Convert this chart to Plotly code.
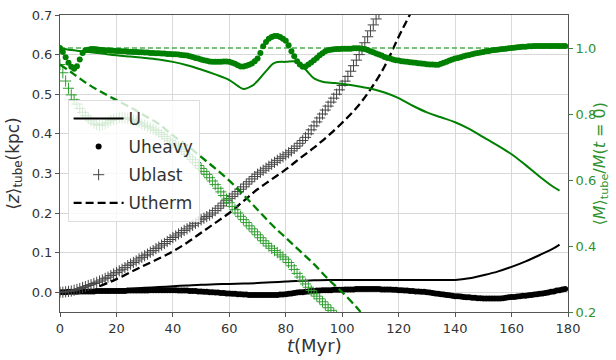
import plotly.graph_objects as go

# ---- time sampling (Myr) for the marker series: one snapshot per Myr ----
t_heavy = list(range(0, 180))      # Uheavy, full run
t_blast_z = list(range(0, 115))    # Ublast height, until it leaves the axis
t_blast_m = list(range(0, 99))     # Ublast mass fraction, until it leaves the axis

# ---- <z>_tube (kpc), left axis ----
t_u = [0, 5, 10, 15, 20, 25, 30, 35, 40, 45, 50, 55, 60, 65, 70, 75, 80, 85, 90, 95,
       100, 105, 110, 115, 120, 125, 130, 135, 140, 145, 150, 155, 160, 165, 170, 175, 177]
z_u = [0.000, 0.002, 0.004, 0.006, 0.007, 0.009, 0.011, 0.013, 0.015, 0.017, 0.019,
       0.020, 0.021, 0.022, 0.023, 0.025, 0.027, 0.029, 0.030, 0.031, 0.031, 0.031,
       0.031, 0.031, 0.031, 0.031, 0.031, 0.031, 0.031, 0.035, 0.043, 0.052, 0.064,
       0.078, 0.094, 0.111, 0.120]

z_heavy = [
    0.000, 0.000, 0.000, 0.001, 0.001, 0.001, 0.001, 0.002, 0.002, 0.002,
    0.002, 0.002, 0.002, 0.003, 0.003, 0.003, 0.003, 0.003, 0.003, 0.003,
    0.003, 0.003, 0.003, 0.003, 0.004, 0.004, 0.004, 0.004, 0.004, 0.004,
    0.004, 0.004, 0.005, 0.005, 0.005, 0.005, 0.005, 0.005, 0.005, 0.005,
    0.005, 0.005, 0.004, 0.004, 0.004, 0.004, 0.003, 0.003, 0.003, 0.002,
    0.002, 0.001, 0.001, 0.000, 0.000, -0.001, -0.001, -0.002, -0.002, -0.003,
    -0.003, -0.004, -0.004, -0.005, -0.005, -0.006, -0.006, -0.007, -0.007, -0.007,
    -0.007, -0.007, -0.007, -0.007, -0.007, -0.007, -0.007, -0.007, -0.006, -0.006,
    -0.005, -0.004, -0.003, -0.002, -0.001, 0.000, 0.000, 0.001, 0.002, 0.003,
    0.003, 0.004, 0.004, 0.005, 0.005, 0.005, 0.005, 0.006, 0.006, 0.006,
    0.006, 0.007, 0.007, 0.007, 0.007, 0.008, 0.008, 0.008, 0.008, 0.008,
    0.008, 0.008, 0.008, 0.008, 0.007, 0.007, 0.007, 0.007, 0.006, 0.006,
    0.005, 0.005, 0.004, 0.004, 0.003, 0.003, 0.002, 0.002, 0.001, 0.001,
    0.000, -0.001, -0.002, -0.003, -0.004, -0.005, -0.006, -0.007, -0.008, -0.009,
    -0.010, -0.010, -0.011, -0.012, -0.013, -0.013, -0.014, -0.014, -0.015, -0.015,
    -0.016, -0.016, -0.016, -0.016, -0.016, -0.016, -0.016, -0.015, -0.014, -0.013,
    -0.012, -0.012, -0.011, -0.010, -0.009, -0.009, -0.008, -0.007, -0.006, -0.005,
    -0.004, -0.003, -0.002, -0.001, 0.001, 0.002, 0.004, 0.005, 0.007, 0.008,
]

z_blast = [
    0.000, 0.000, 0.001, 0.002, 0.003, 0.005, 0.007, 0.009, 0.012, 0.014,
    0.017, 0.019, 0.022, 0.025, 0.028, 0.031, 0.035, 0.038, 0.042, 0.046,
    0.050, 0.054, 0.058, 0.062, 0.067, 0.071, 0.075, 0.079, 0.084, 0.088,
    0.092, 0.096, 0.101, 0.105, 0.110, 0.114, 0.119, 0.123, 0.128, 0.133,
    0.138, 0.142, 0.147, 0.151, 0.156, 0.160, 0.165, 0.169, 0.174, 0.178,
    0.183, 0.187, 0.191, 0.195, 0.200, 0.206, 0.212, 0.218, 0.225, 0.231,
    0.237, 0.242, 0.248, 0.254, 0.260, 0.266, 0.273, 0.279, 0.286, 0.292,
    0.298, 0.303, 0.308, 0.313, 0.318, 0.323, 0.328, 0.333, 0.338, 0.342,
    0.347, 0.352, 0.357, 0.363, 0.369, 0.376, 0.383, 0.391, 0.400, 0.410,
    0.420, 0.430, 0.440, 0.450, 0.460, 0.470, 0.480, 0.490, 0.500, 0.511,
    0.522, 0.533, 0.545, 0.558, 0.572, 0.586, 0.600, 0.615, 0.630, 0.645,
    0.660, 0.675, 0.690, 0.705, 0.720,
]

t_therm = [14, 20, 26, 30, 35, 40, 45, 50, 55, 60, 65, 70, 75, 80, 85, 90, 95, 100,
           105, 110, 115, 120, 125]
z_therm = [0.015, 0.033, 0.054, 0.068, 0.085, 0.103, 0.125, 0.150, 0.175, 0.200,
           0.230, 0.260, 0.285, 0.310, 0.338, 0.365, 0.395, 0.428, 0.465, 0.512,
           0.570, 0.645, 0.715]

# ---- <M>_tube / M(t=0), right axis ----
t_mu = [0, 3, 6, 10, 15, 20, 25, 30, 35, 40, 45, 50, 55, 60, 63, 65, 68, 70, 73, 76,
        80, 84, 87, 90, 93, 96, 100, 105, 110, 115, 120, 125, 130, 135, 140, 145, 150,
        155, 160, 165, 170, 175, 177]
m_u = [1.000, 0.995, 0.992, 0.988, 0.983, 0.978, 0.974, 0.970, 0.965, 0.958, 0.948,
       0.935, 0.920, 0.903, 0.885, 0.876, 0.885, 0.900, 0.930, 0.955, 0.958, 0.958,
       0.935, 0.908, 0.898, 0.895, 0.891, 0.885, 0.877, 0.865, 0.848, 0.825, 0.805,
       0.790, 0.775, 0.755, 0.730, 0.705, 0.678, 0.645, 0.610, 0.578, 0.568]

m_heavy = [
    1.000, 0.988, 0.972, 0.955, 0.943, 0.937, 0.945, 0.965, 0.985, 0.993,
    0.995, 0.997, 0.997, 0.996, 0.995, 0.994, 0.993, 0.993, 0.992, 0.992,
    0.991, 0.991, 0.990, 0.990, 0.989, 0.989, 0.988, 0.988, 0.987, 0.987,
    0.986, 0.986, 0.985, 0.985, 0.984, 0.984, 0.983, 0.983, 0.982, 0.982,
    0.981, 0.981, 0.980, 0.979, 0.978, 0.977, 0.975, 0.973, 0.970, 0.968,
    0.965, 0.963, 0.961, 0.959, 0.958, 0.958, 0.958, 0.958, 0.959, 0.959,
    0.958, 0.955, 0.952, 0.948, 0.944, 0.944, 0.946, 0.949, 0.953, 0.960,
    0.968, 0.985, 1.005, 1.018, 1.028, 1.033, 1.036, 1.036, 1.033, 1.028,
    1.022, 1.008, 0.990, 0.975, 0.960, 0.950, 0.943, 0.944, 0.950, 0.956,
    0.963, 0.970, 0.978, 0.984, 0.990, 0.993, 0.995, 0.996, 0.997, 0.997,
    0.998, 0.998, 0.998, 0.998, 0.999, 0.999, 0.999, 0.998, 0.997, 0.994,
    0.990, 0.987, 0.983, 0.980, 0.977, 0.973, 0.970, 0.968, 0.965, 0.963,
    0.962, 0.960, 0.959, 0.958, 0.957, 0.956, 0.955, 0.954, 0.953, 0.952,
    0.951, 0.950, 0.950, 0.949, 0.949, 0.952, 0.955, 0.958, 0.962, 0.965,
    0.968, 0.970, 0.972, 0.975, 0.977, 0.979, 0.981, 0.983, 0.985, 0.986,
    0.988, 0.990, 0.991, 0.993, 0.994, 0.995, 0.996, 0.997, 0.998, 0.999,
    1.000, 1.001, 1.002, 1.003, 1.004, 1.004, 1.005, 1.005, 1.006, 1.006,
    1.006, 1.006, 1.006, 1.006, 1.006, 1.006, 1.006, 1.006, 1.006, 1.006,
]

m_blast = [
    0.950, 0.925, 0.900, 0.878, 0.858, 0.843, 0.830, 0.817, 0.805, 0.795,
    0.787, 0.779, 0.772, 0.768, 0.765, 0.767, 0.770, 0.775, 0.780, 0.783,
    0.786, 0.788, 0.789, 0.788, 0.787, 0.784, 0.781, 0.778, 0.774, 0.770,
    0.766, 0.762, 0.758, 0.754, 0.750, 0.744, 0.738, 0.732, 0.725, 0.719,
    0.712, 0.706, 0.700, 0.693, 0.686, 0.678, 0.670, 0.662, 0.653, 0.644,
    0.635, 0.626, 0.617, 0.607, 0.597, 0.586, 0.575, 0.564, 0.553, 0.542,
    0.531, 0.520, 0.510, 0.500, 0.490, 0.480, 0.471, 0.461, 0.452, 0.443,
    0.434, 0.425, 0.416, 0.408, 0.400, 0.393, 0.386, 0.380, 0.373, 0.367,
    0.360, 0.350, 0.340, 0.329, 0.317, 0.306, 0.295, 0.285, 0.275, 0.265,
    0.255, 0.248, 0.240, 0.231, 0.222, 0.213, 0.205, 0.196, 0.188,
]

t_mtherm = [0, 5, 10, 15, 20, 25, 30, 35, 40, 45, 50, 55, 60, 65, 70, 75, 80, 85, 90,
            95, 100, 105, 107]
m_therm = [0.950, 0.920, 0.890, 0.865, 0.842, 0.820, 0.795, 0.770, 0.735, 0.705,
           0.670, 0.635, 0.598, 0.555, 0.510, 0.465, 0.425, 0.385, 0.345, 0.300,
           0.260, 0.215, 0.195]

m_ref = 1.0  # initial-mass reference level

GREEN = "#008000"
GREEN_TXT = "#2f922f"
FONT = "DejaVu Sans"

fig = go.Figure()

# black: height of the tube
fig.add_trace(go.Scatter(x=t_u, y=z_u, mode="lines", name="U", legendgroup="a",
                         line=dict(color="black", width=2, shape="spline")))
fig.add_trace(go.Scatter(x=t_heavy, y=z_heavy, mode="markers", name="Uheavy", legendgroup="b",
                         marker=dict(color="black", size=6, symbol="circle")))
fig.add_trace(go.Scatter(x=t_blast_z, y=z_blast, mode="markers", name="Ublast", legendgroup="c",
                         marker=dict(symbol="cross-thin", size=8,
                                     line=dict(color="#444444", width=1))))
fig.add_trace(go.Scatter(x=t_therm, y=z_therm, mode="lines", name="Utherm", legendgroup="d",
                         line=dict(color="black", width=2.3, dash="8px,4px", shape="spline")))

# green: mass fraction in the tube
fig.add_trace(go.Scatter(x=[0, 180], y=[m_ref, m_ref], mode="lines", yaxis="y2",
                         showlegend=False, line=dict(color="#4caf50", width=1.5, dash="5px,3px")))
fig.add_trace(go.Scatter(x=t_mu, y=m_u, mode="lines", yaxis="y2", showlegend=False,
                         line=dict(color=GREEN, width=2, shape="spline")))
fig.add_trace(go.Scatter(x=t_heavy, y=m_heavy, mode="markers", yaxis="y2", showlegend=False,
                         marker=dict(color=GREEN, size=6, symbol="circle")))
fig.add_trace(go.Scatter(x=t_blast_m, y=m_blast, mode="markers", yaxis="y2", showlegend=False,
                         marker=dict(symbol="cross-thin", size=8,
                                     line=dict(color="#2e9e2e", width=1))))
fig.add_trace(go.Scatter(x=t_mtherm, y=m_therm, mode="lines", yaxis="y2", showlegend=False,
                         line=dict(color=GREEN, width=2.3, dash="8px,4px", shape="spline")))

axis_common = dict(showline=True, linecolor="#555555", linewidth=1, ticks="outside",
                   ticklen=4, tickcolor="#555555", tickfont=dict(size=13, color="#333333"),
                   zeroline=False)

fig.update_layout(
    width=616, height=360,
    margin=dict(l=60, r=48, t=8, b=48),
    paper_bgcolor="white", plot_bgcolor="white",
    font=dict(family=FONT, color="#333333"),
    xaxis=dict(range=[0, 180], dtick=20, tick0=0, showgrid=True, gridcolor="#d9d9d9",
               mirror=True, **axis_common),
    yaxis=dict(range=[-0.05, 0.7], tickvals=[0, 0.1, 0.2, 0.3, 0.4, 0.5, 0.6, 0.7],
               tickformat=".1f", showgrid=True, gridcolor="#d9d9d9", mirror=True,
               **axis_common),
    yaxis2=dict(range=[0.2, 1.1], tickvals=[0.2, 0.4, 0.6, 0.8, 1.0], tickformat=".1f",
                overlaying="y", side="right", showgrid=False, showline=False, zeroline=False,
                ticks="outside", ticklen=4, tickcolor=GREEN_TXT,
                tickfont=dict(size=13, color=GREEN_TXT)),
    legend=dict(x=0.015, y=0.714, xanchor="left", yanchor="top",
                bgcolor="rgba(255,255,255,0.8)", bordercolor="#dddddd", borderwidth=1,
                font=dict(size=17, color="#333333"), itemwidth=50,
                traceorder="grouped", tracegroupgap=3),
    showlegend=True,
    annotations=[
        dict(text="<i>t</i>(Myr)", xref="paper", yref="paper", x=0.5, y=-0.112,
             xanchor="center", yanchor="middle", showarrow=False,
             font=dict(size=18, color="#333333")),
        dict(text="⟨<i>z</i>⟩<sub>tube</sub>(kpc)", xref="paper", yref="paper",
             x=-0.09, y=0.5, xanchor="center", yanchor="middle", textangle=-90,
             showarrow=False, font=dict(size=17, color="#333333")),
        dict(text="⟨<i>M</i>⟩<sub>tube</sub>/<i>M</i>(<i>t</i> = 0)", xref="paper",
             yref="paper", x=1.063, y=0.5, xanchor="center", yanchor="middle",
             textangle=-90, showarrow=False, font=dict(size=16, color=GREEN_TXT)),
    ],
)

fig.write_html("out.html")
